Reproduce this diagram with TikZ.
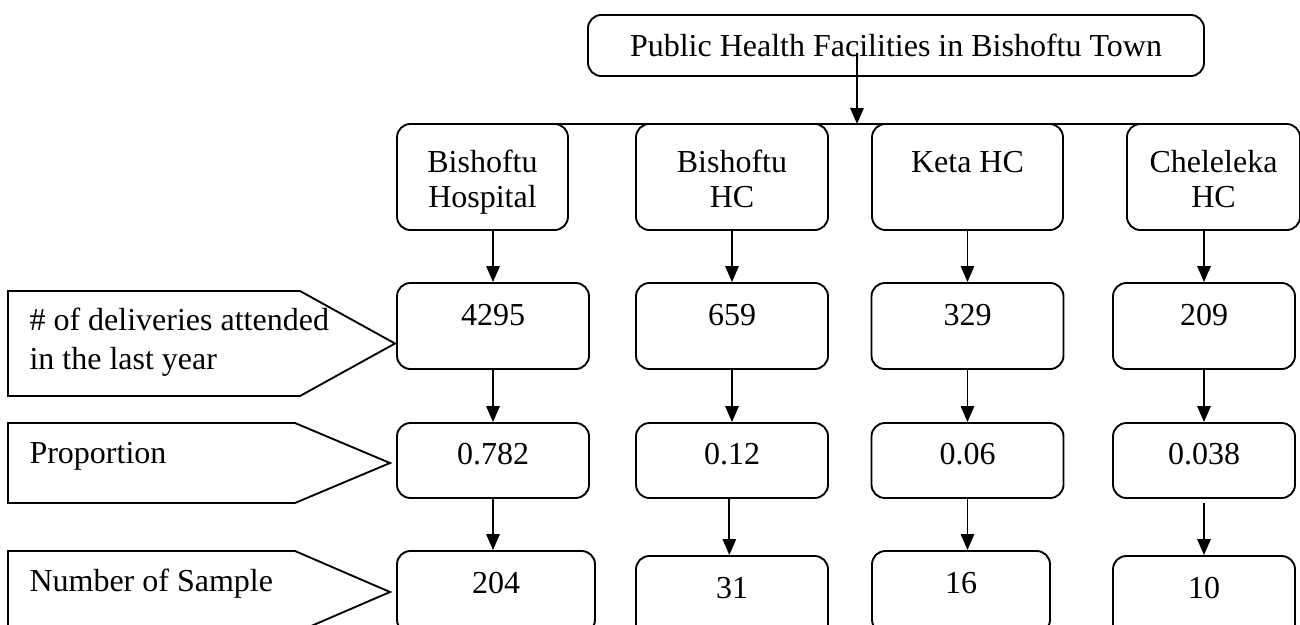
\documentclass[tikz,border=0pt]{standalone}
\usepackage{fontspec}
\setmainfont{Liberation Serif}
\usetikzlibrary{arrows.meta}

\begin{document}
\begin{tikzpicture}[x=0.375pt, y=-0.375pt,
      every node/.style={font=\fontsize{12}{13.1}\selectfont},
      box/.style={draw, line width=0.7pt, rounded corners=5pt,
          align=center, inner sep=2pt},
      facbox/.style={box, minimum height=39.75pt, text height=22.5pt,
          text depth=0pt},
      delbox/.style={box, minimum height=32.25pt, text depth=8.25pt},
      propbox/.style={box, minimum height=28.1pt, text depth=4.9pt},
      sampbox/.style={box, minimum height=30.75pt, text depth=7.1pt},
      labtext/.style={align=left, inner sep=0pt,
          font=\fontsize{12}{14.6}\selectfont},
      arr/.style={-{Triangle[length=6pt, width=5pt]}, line width=0.7pt}]
    \useasboundingbox (0,0) rectangle (1300,625);
    % top
    \node[box, minimum width=231pt, minimum height=22.9pt] (town) at (896,45.5)
          {Public Health Facilities in Bishoftu Town};
    \coordinate (split) at (857,124);
    \coordinate (busL) at (542,124);
    \coordinate (busR) at (1150,124);
    \draw[arr] ([xshift=-14.6pt, yshift=-2.8pt]town.center) -- (split);
    \draw[line width=0.7pt] (busL) -- (busR);
    % facilities
    \node[facbox, minimum width=64.1pt] (fac1) at (482.5,177) {Bishoftu\\Hospital};
    \node[facbox, minimum width=72pt] (fac2) at (732,177) {Bishoftu\\HC};
    \node[facbox, minimum width=71.6pt] (fac3) at (967.5,177) {Keta HC\\\mbox{}};
    \node[facbox, minimum width=64.9pt] (fac4) at (1213.5,177) {Cheleleka\\HC};
    % deliveries
    \node[delbox, minimum width=72pt] (del1) at (493,326) {4295};
    \node[delbox, minimum width=72pt] (del2) at (732,326) {659};
    \node[delbox, minimum width=72pt] (del3) at (967.5,326) {329};
    \node[delbox, minimum width=68.25pt] (del4) at (1204,326) {209};
    % proportions
    \node[propbox, minimum width=72pt] (prop1) at (493,460.5) {0.782};
    \node[propbox, minimum width=72pt] (prop2) at (732,460.5) {0.12};
    \node[propbox, minimum width=72pt] (prop3) at (967.5,460.5) {0.06};
    \node[propbox, minimum width=68.25pt] (prop4) at (1204,460.5) {0.038};
    % samples
    \node[sampbox, minimum width=74.25pt] (samp1) at (496,592) {204};
    \node[sampbox, minimum width=72pt] (samp2) at (732,597) {31};
    \node[sampbox, minimum width=66.75pt] (samp3) at (961,592) {16};
    \node[sampbox, minimum width=68.25pt] (samp4) at (1204,597) {10};
    % row labels
    \draw[line width=0.7pt] (8,291) -- (300,291) -- (395,343.5) -- (300,396)
          -- (8,396) -- cycle;
    \draw[line width=0.7pt] (8,423) -- (295,423) -- (390,463) -- (295,503)
          -- (8,503) -- cycle;
    \draw[line width=0.7pt] (8,551) -- (295,551) -- (390,592) -- (295,633)
          -- (8,633) -- cycle;
    \node[labtext, anchor=west] (labdel) at (29,342)
          {\# of deliveries attended\\in the last year};
    \node[labtext, anchor=base west] (labprop) at (29,463) {Proportion};
    \node[labtext, anchor=base west] (labsamp) at (29,591) {Number of Sample};
    % arrows
    \foreach \i in {1,...,4}{
      \draw[arr] (fac\i.south -| del\i.north) -- (del\i.north);
      \draw[arr] (del\i.south) -- (prop\i.north);
    }
    \draw[arr] (prop1.south) -- (prop1.south |- samp1.north);
    \draw[arr] ([xshift=-1pt]prop2.south) -- ([xshift=-1pt]prop2.south |- samp2.north);
    \draw[arr] (prop3.south) -- (prop3.south |- samp3.north);
    \draw[arr, shorten <=1.5pt] (prop4.south) -- (prop4.south |- samp4.north);
  \end{tikzpicture}
\end{document}
